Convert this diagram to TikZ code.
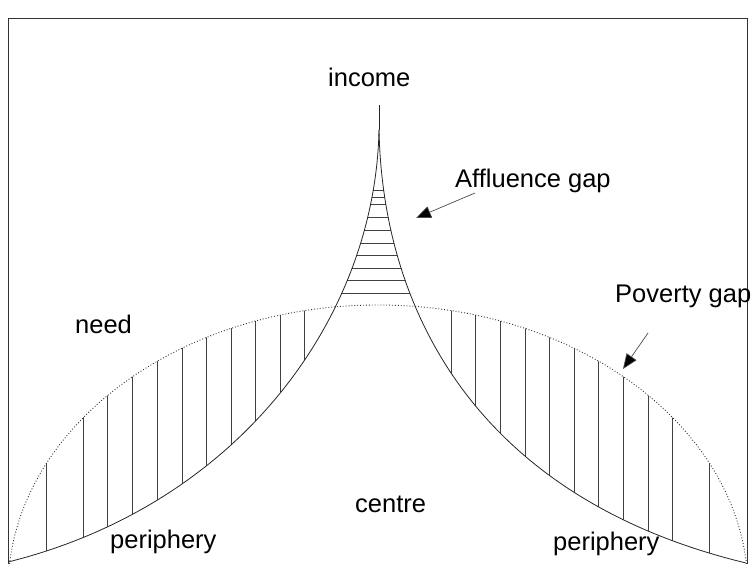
\documentclass[tikz,border=0pt]{standalone}
\usepackage{fontspec}
\setmainfont{Liberation Sans}
\usetikzlibrary{arrows.meta}
\begin{document}
\begin{tikzpicture}[x=1pt,y=-1pt,
  lbl/.style={inner sep=0pt,anchor=base west,font=\fontsize{25.5}{30}\selectfont},
  curveline/.style={line width=0.8pt,draw=black!85},
  hatch/.style={line width=0.8pt,draw=black!75},
  needline/.style={line width=0.9pt,dotted,draw=black!80},
  pointer/.style={line width=0.7pt,draw=black!70,-{Triangle[length=15pt,width=12pt,fill=black]}},
  frameline/.style={line width=0.8pt,draw=black!80}]
\useasboundingbox (0,0) rectangle (752,564);
% frame
\draw[frameline] (8,564) -- (8,18) -- (747,18) -- (747,564);
% spike
\coordinate (peak) at (379,105);
\coordinate (fork) at (379,130);
\coordinate (lend) at (8,562);
\coordinate (rend) at (746,563);
\coordinate (needc) at (378,590);
% horizontal hatching (affluence gap)
\begin{scope}
  \clip (fork) .. controls (375,320) and (237,505) .. (lend) -- (rend) .. controls (485,500) and (383,320) .. (fork) -- cycle;
  \foreach \yy in {190,197,204,217,230,243,255,268,280,293}
    \draw[hatch] (300,\yy) -- (460,\yy);
\end{scope}
% vertical hatching left (poverty gap)
\begin{scope}
  \clip (needc) ellipse [x radius=370pt, y radius=285pt];
  \clip (fork) .. controls (375,320) and (237,505) .. (lend) -- (0,564) -- (0,0) -- (379,0) -- cycle;
  \foreach \xx in {46,83,107,132,157,182,206,231,255,280,304}
    \draw[hatch] (\xx,290) -- (\xx,564);
\end{scope}
% vertical hatching right
\begin{scope}
  \clip (needc) ellipse [x radius=370pt, y radius=285pt];
  \clip (fork) .. controls (383,320) and (485,500) .. (rend) -- (752,564) -- (752,0) -- (379,0) -- cycle;
  \foreach \xx in {451,475,500,525,549,574,598,623,648,672,709}
    \draw[hatch] (\xx,290) -- (\xx,564);
\end{scope}
% need curve (dotted)
\begin{scope}
  \clip (8,0) rectangle (747,564);
  \draw[needline] (needc) ellipse [x radius=370pt, y radius=285pt];
\end{scope}
% income curves
\draw[curveline] (peak) -- (fork);
\draw[curveline] (fork) .. controls (375,320) and (237,505) .. (lend);
\draw[curveline] (fork) .. controls (383,320) and (485,500) .. (rend);
% labels
\node[lbl] (income) at (328,87) {income};
\node[lbl] (affl) at (455,188) {Affluence gap};
\node[lbl] (pov) at (615,302) {Poverty gap};
\node[lbl] (need) at (75,333) {need};
\node[lbl] (centre) at (355,512) {centre};
\node[lbl] (perl) at (110,548) {periphery};
\node[lbl] (perr) at (553,550) {periphery};
% pointers
\coordinate (afftail) at (475,193);
\coordinate (afftip) at (416,218);
\coordinate (povtail) at (648,333);
\coordinate (povtip) at (623,369);
\draw[pointer] (afftail) -- (afftip);
\draw[pointer] (povtail) -- (povtip);
\end{tikzpicture}
\end{document}
